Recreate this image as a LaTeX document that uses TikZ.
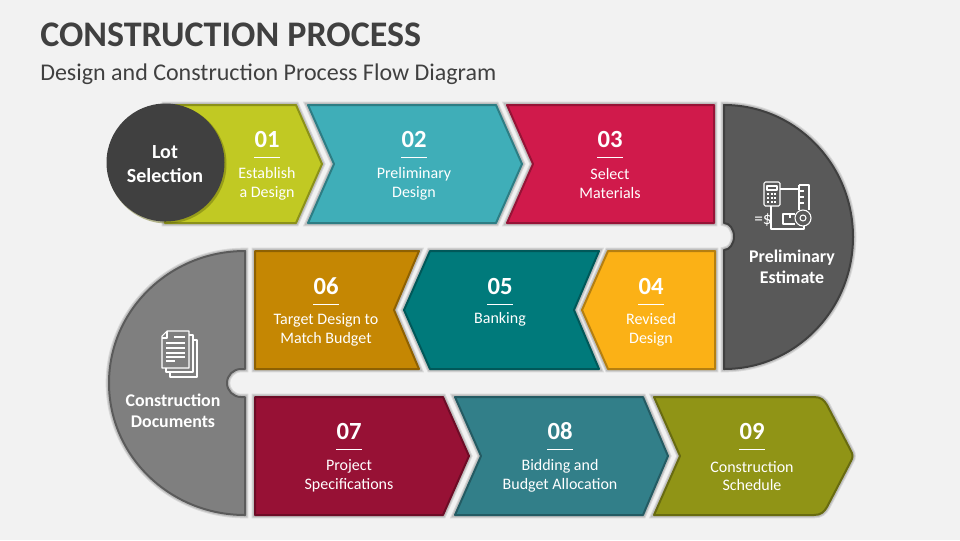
\documentclass[tikz,border=0pt]{standalone}
\usepackage{fontspec}
\setmainfont{Carlito}
\definecolor{bgcol}{HTML}{F2F2F2}
\definecolor{titlecol}{HTML}{404040}
\definecolor{lime}{HTML}{C1C923}
\definecolor{tealb}{HTML}{3FAEB8}
\definecolor{crim}{HTML}{D01A4B}
\definecolor{amber}{HTML}{FBB116}
\definecolor{deept}{HTML}{007A7B}
\definecolor{ochre}{HTML}{C58703}
\definecolor{wine}{HTML}{971135}
\definecolor{slate}{HTML}{327F89}
\definecolor{olive}{HTML}{909416}
\definecolor{discdark}{HTML}{595959}
\definecolor{disclight}{HTML}{7F7F7F}
\tikzset{
	shapeline/.style={draw=#1!72!black,fill=#1,line width=1.5pt,line join=round,
		preaction={draw=black,draw opacity=0.10,line width=5pt},
		preaction={draw=black,draw opacity=0.12,line width=3.5pt}},
	numtext/.style={text=white,font=\bfseries\fontsize{18.5}{20}\selectfont},
	steptext/.style={text=white,font=\fontsize{12}{14.2}\selectfont,align=center},
	headtext/.style={text=white,font=\bfseries\fontsize{13.4}{16}\selectfont,align=center},
	iconline/.style={draw=white,line width=0.8pt,line join=round}
}
\begin{document}
\begin{tikzpicture}[x=0.75pt,y=-0.75pt]
	\fill[bgcol] (0,0) rectangle (960,540);
	\node[anchor=west,inner sep=0,text=titlecol,font=\bfseries\fontsize{27}{30}\selectfont] (title) at (40,35) {CONSTRUCTION PROCESS};
	\node[anchor=west,inner sep=0,text=titlecol,font=\fontsize{18}{20}\selectfont] (subtitle) at (40,74.5) {Design and Construction Process Flow Diagram};
	% half discs
	\draw[shapeline=discdark] (724,105) arc (-90:90:129 and 132) -- (724,250) arc (90:-90:10 and 13.5) -- cycle;
	\draw[shapeline=disclight] (245,251) arc (-90:-270:136 and 132) -- (245,397) -- (241,397) arc (90:270:14) -- (245,369) -- cycle;
	% row 1
	\draw[shapeline=lime] (165,105) -- (296,105) -- (322,164) -- (296,223) -- (165,223) -- cycle;
	\draw[shapeline=tealb] (308,105) -- (496,105) -- (522,164) -- (496,223) -- (308,223) -- (334,164) -- cycle;
	\draw[shapeline=crim] (507,105) -- (714,105) -- (714,223) -- (507,223) -- (533,164) -- cycle;
	% row 2
	\draw[shapeline=ochre] (255,251) -- (419,251) -- (394,310) -- (419,369) -- (255,369) -- cycle;
	\draw[shapeline=deept] (430,251) -- (599,251) -- (574,310) -- (599,369) -- (430,369) -- (404,310) -- cycle;
	\draw[shapeline=amber] (608,251) -- (715,251) -- (715,369) -- (608,369) -- (582,310) -- cycle;
	% row 3
	\draw[shapeline=wine] (255,397) -- (443,397) -- (469,456) -- (443,515) -- (255,515) -- cycle;
	\draw[shapeline=slate] (455,397) -- (643,397) -- (668,456) -- (643,515) -- (455,515) -- (481,456) -- cycle;
	\draw[shapeline=olive] (654,397) -- (814,397) .. controls (821,397) and (824,400) .. (827,405) -- (851,451) .. controls (853,454) and (853,458) .. (851,461) -- (827,507) .. controls (824,512) and (821,515) .. (814,515) -- (654,515) -- (680,456) -- cycle;
	% circle
	\fill[olive!70!black,opacity=0.45] (167,164) circle (59.5);
	\fill[titlecol] (165.5,162.5) circle (59);
	\node[headtext,font=\bfseries\fontsize{15}{18}\selectfont] (lot) at (165,164) {Lot\\Selection};
	% numbers and rules
	\foreach \nx/\ny/\num in {267/139/01,414/139/02,610/139/03,651/286/04,500/286/05,326/286/06,349/431/07,560/431/08,752/431/09}{
		\node[numtext] (num\num) at (\nx,\ny) {\num};
		\draw[white,line width=0.7pt] (\nx-13,\ny+18) -- (\nx+13,\ny+18);
	}
	\node[steptext] (labone) at (267,183.5) {Establish\\a Design};
	\node[steptext] (labtwo) at (414,183.5) {Preliminary\\Design};
	\node[steptext] (labthree) at (610,183.5) {Select\\Materials};
	\node[steptext] (labfour) at (651,329.5) {Revised\\Design};
	\node[steptext] (labfive) at (500,319) {Banking};
	\node[steptext] (labsix) at (326,329.5) {Target Design to\\Match Budget};
	\node[steptext] (labseven) at (349,476) {Project\\Specifications};
	\node[steptext] (labeight) at (560,476) {Bidding and\\Budget Allocation};
	\node[steptext] (labnine) at (752,476) {Construction\\Schedule};
	\node[headtext] (estimate) at (792,267) {Preliminary\\Estimate};
	\node[headtext] (documents) at (173,411) {Construction\\Documents};
	% estimate icon
	\draw[iconline,rounded corners=1pt] (764,182) rectangle (780,206);
	\draw[iconline] (767,186) rectangle (777,190);
	\foreach \ix in {767,770.5,774}{\foreach \iy in {193,197,201}{\fill[white] (\ix,\iy) rectangle +(2.4,2.4);}}
	\draw[iconline] (780,189) -- (799,189);
	\draw[iconline] (799,185) -- (809,185) -- (809,210);
	\draw[iconline] (799,185) -- (799,210);
	\foreach \iy in {191,197,203}{\draw[iconline] (799,\iy) -- (804,\iy);}
	\draw[iconline] (803,218) circle (8);
	\draw[iconline] (803,218) circle (3);
	\draw[iconline,line width=1pt] (795,214) -- (783,214) -- (783,224) -- (795,224);
	\draw[iconline] (790,214) -- (790,218);
	\draw[iconline] (771,206) -- (771,229) -- (804,229) -- (804,226);
	\node[text=white,inner sep=0,font=\fontsize{13}{13}\selectfont] (dollar) at (763,220) {=\$};
	% document icon
	\draw[iconline] (167,331) -- (189,331) -- (189,368) -- (162,368) -- (162,336) -- cycle;
	\draw[iconline] (162,338) -- (167,338) -- (167,331);
	\draw[iconline] (189,335) -- (193,335) -- (193,372) -- (166,372) -- (166,368);
	\draw[iconline] (193,340) -- (197,340) -- (197,377) -- (170,377) -- (170,372);
	\foreach \iy/\ia/\ib in {337/174/185,343/166/185,348/166/185,353/166/185,357/166/185,361/166/175}{\draw[iconline] (\ia,\iy) -- (\ib,\iy);}
\end{tikzpicture}
\end{document}
